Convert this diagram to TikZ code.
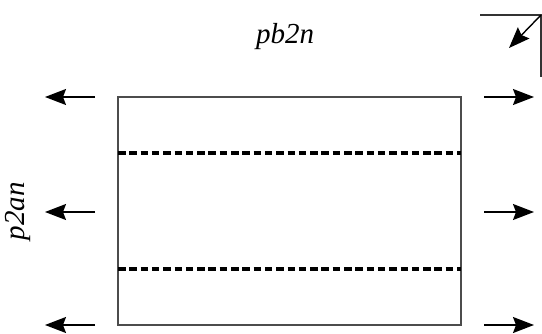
\documentclass[tikz,border=0pt]{standalone}
\usepackage{fontspec}
\setmainfont{Liberation Serif}
\usetikzlibrary{arrows.meta}
\begin{document}
\begin{tikzpicture}[x=1pt,y=-1pt,
  frame/.style={draw=black!70,line width=1.5pt},
  cutline/.style={draw=black,line width=4.6pt,dash pattern=on 7.5pt off 3.8pt},
  force/.style={draw=black,line width=1.4pt,-{Stealth[length=21pt,width=16pt,inset=3pt]}},
  lbl/.style={font=\fontsize{29}{33}\selectfont\itshape,inner sep=0pt}]
\useasboundingbox (0,0) rectangle (542,333);
% plate
\coordinate (tl) at (118,97);
\coordinate (br) at (461,325);
\draw[frame] (tl) rectangle (br);
\coordinate (d1l) at (118,153); \coordinate (d1r) at (461,153);
\coordinate (d2l) at (118,269); \coordinate (d2r) at (461,269);
\draw[cutline] (d1l) -- (d1r);
\draw[cutline] (d2l) -- (d2r);
% arrows
\foreach \y/\n in {97/a,212/b,325/c}{
  \coordinate (ls\n) at (95,\y); \coordinate (le\n) at (45,\y);
  \draw[force] (ls\n) -- (le\n);
  \coordinate (rs\n) at (484,\y); \coordinate (re\n) at (534,\y);
  \draw[force] (rs\n) -- (re\n);
}
% corner symbol
\coordinate (c0) at (480,15);
\coordinate (c1) at (541,15);
\coordinate (c2) at (541,77);
\coordinate (ct) at (509,48);
\draw[black!80,line width=1.4pt] (c0) -- (c1) -- (c2);
\draw[force] (c1) -- (ct);
% labels
\node[lbl] (pb) at (285,37) {pb2n};
\node[lbl,rotate=90] (pa) at (18,211) {p2an};
\end{tikzpicture}
\end{document}
